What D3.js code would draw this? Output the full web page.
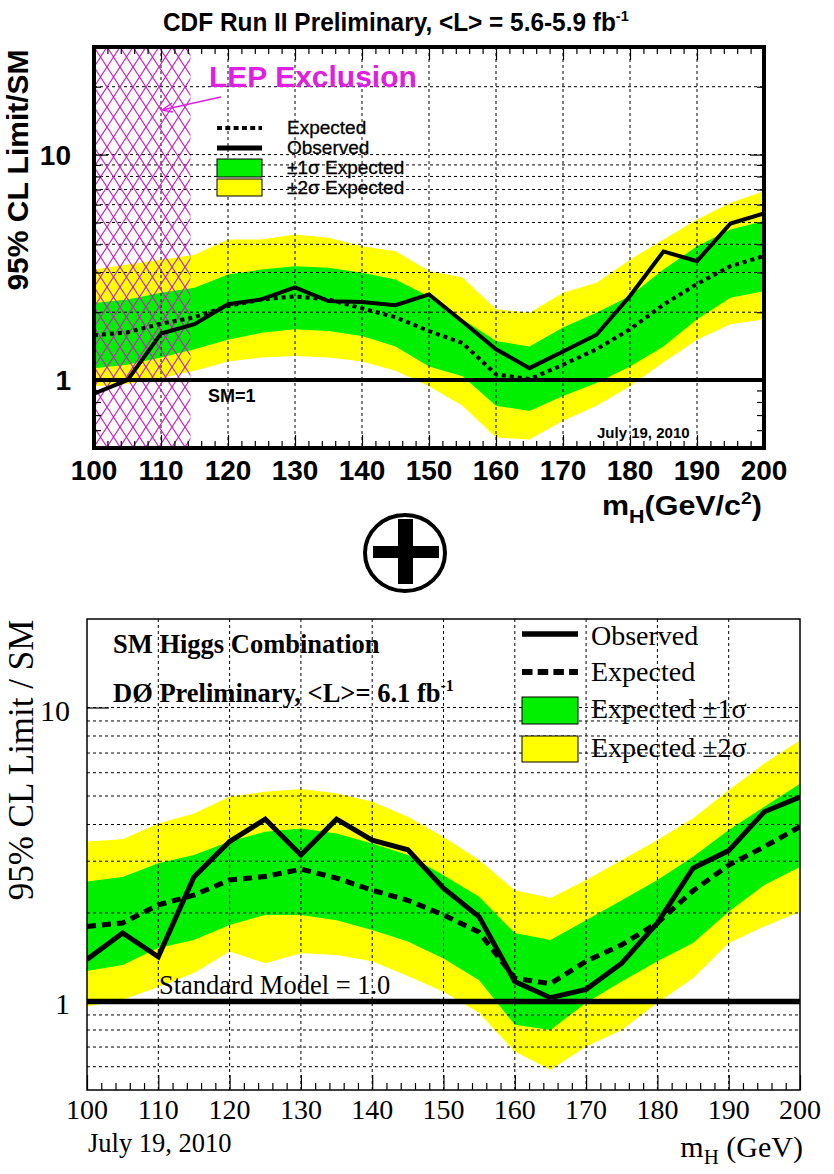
<!DOCTYPE html>
<html><head><meta charset="utf-8">
<script src="https://cdnjs.cloudflare.com/ajax/libs/d3/7.8.5/d3.min.js"></script>
<style>html,body{margin:0;padding:0;background:#fff;} svg{display:block;}</style>
</head><body>
<svg id="c" width="834" height="1174"></svg>
<script>
// ---------------- DATA ----------------
const masses = [100,105,110,115,120,125,130,135,140,145,150,155,160,165,170,175,180,185,190,195,200];

// CDF (top panel)
const cdfObs   = [0.87,1.00,1.61,1.77,2.17,2.28,2.58,2.24,2.22,2.15,2.40,1.82,1.37,1.13,1.34,1.59,2.36,3.72,3.37,4.95,5.48];
const cdfExp   = [1.58,1.63,1.78,1.90,2.13,2.28,2.35,2.28,2.08,1.90,1.65,1.46,1.06,1.01,1.17,1.37,1.68,2.16,2.67,3.20,3.55];
const cdfP1s   = [2.20,2.28,2.44,2.57,2.94,3.09,3.20,3.15,2.99,2.79,2.35,1.86,1.49,1.41,1.71,1.99,2.36,3.09,3.92,4.65,5.07];
const cdfM1s   = [1.13,1.17,1.26,1.37,1.51,1.62,1.68,1.65,1.57,1.41,1.15,1.04,0.77,0.73,0.85,0.97,1.15,1.41,1.86,2.32,2.48];
const cdfP2s   = [3.09,3.26,3.42,3.60,4.20,4.20,4.42,4.28,3.92,3.73,3.05,2.85,2.06,1.99,2.44,2.70,3.42,4.20,5.15,6.11,6.88];
const cdfM2s   = [0.94,0.96,1.02,1.10,1.21,1.26,1.28,1.26,1.21,1.10,0.94,0.77,0.556,0.546,0.66,0.77,0.94,1.20,1.51,1.77,1.86];

// D0 (bottom panel)
const d0Obs    = [1.39,1.71,1.42,2.65,3.50,4.17,3.15,4.17,3.54,3.28,2.43,1.94,1.17,1.03,1.10,1.35,1.85,2.84,3.26,4.42,4.96];
const d0Exp    = [1.80,1.85,2.13,2.30,2.59,2.66,2.82,2.63,2.39,2.21,1.97,1.72,1.20,1.15,1.37,1.56,1.85,2.38,2.91,3.36,3.93];
const d0P1s    = [2.56,2.65,2.95,3.15,3.50,3.78,3.88,3.73,3.45,3.15,2.69,2.27,1.71,1.62,1.89,2.21,2.59,3.11,3.83,4.60,5.50];
const d0M1s    = [1.27,1.33,1.52,1.62,1.82,1.97,1.97,1.89,1.75,1.60,1.40,1.18,0.833,0.80,0.99,1.17,1.37,1.58,2.02,2.49,2.87];
const d0P2s    = [3.50,3.56,4.03,4.36,4.97,5.17,5.28,5.11,4.78,4.25,3.63,3.03,2.39,2.25,2.59,3.03,3.54,4.20,5.23,6.45,7.74];
const d0M2s    = [0.962,1.013,1.12,1.25,1.48,1.35,1.46,1.44,1.37,1.22,1.08,0.913,0.676,0.586,0.703,0.80,0.99,1.20,1.58,1.80,2.02];

// ticks / labels
const xLabels      = [100,110,120,130,140,150,160,170,180,190,200];
const xGrid        = [110,120,130,140,150,160,170,180,190];
const topYGrid     = [2,3,4,5,6,7,8,9,10,20];
const topYMinor    = [0.6,0.7,0.8,0.9,2,3,4,5,6,7,8,9,20];
const topYMajor    = [1,10];
const botYGrid     = [0.6,0.7,0.8,0.9,2,3,4,5,6,7,8,9,10];
const yLabelVals   = [1,10];
const lepLimit     = 114.4;

// ---------------- SETUP ----------------
const svg = d3.select("#c");
const defs = svg.append("defs");
const GREEN = "#00f000", YELLOW = "#ffff00", MAG = "#e020e0";

function rows(o,e,p1,m1,p2,m2){ return masses.map((m,i)=>({m,obs:o[i],exp:e[i],p1:p1[i],m1:m1[i],p2:p2[i],m2:m2[i]})); }
const cdfRows = rows(cdfObs,cdfExp,cdfP1s,cdfM1s,cdfP2s,cdfM2s);
const d0Rows  = rows(d0Obs,d0Exp,d0P1s,d0M1s,d0P2s,d0M2s);

function fitGroup(g, x0, y, target){
  const bb = g.node().getBBox();
  const s = target / bb.width;
  g.attr("transform", `translate(${x0 - bb.x*s},${y}) scale(${s},1)`);
}

// =============== TOP PANEL (CDF) ===============
const T = {l:94, r:764, t:47, b:448};
const tx = d3.scaleLinear().domain([100,200]).range([T.l,T.r]);
const ty = d3.scaleLog().domain([0.5,30]).range([T.b,T.t]);

defs.append("clipPath").attr("id","clipT").append("rect")
  .attr("x",T.l).attr("y",T.t).attr("width",T.r-T.l).attr("height",T.b-T.t);
const hp = defs.append("pattern").attr("id","hatch").attr("patternUnits","userSpaceOnUse")
  .attr("x",T.l).attr("y",T.t).attr("width",13).attr("height",20);
hp.append("path").attr("d","M0,0L13,20M13,0L0,20").attr("stroke","#c81ec8").attr("stroke-width",1.2).attr("fill","none");

const topG = svg.append("g");
const topC = topG.append("g").attr("clip-path","url(#clipT)");
const areaT = (lo,hi)=>d3.area().x(d=>tx(d.m)).y0(d=>ty(d[lo])).y1(d=>ty(d[hi]));
topC.append("path").datum(cdfRows).attr("d",areaT("m2","p2")).attr("fill",YELLOW);
topC.append("path").datum(cdfRows).attr("d",areaT("m1","p1")).attr("fill",GREEN);

// grid
topC.selectAll(".vg").data(xGrid).join("line").attr("x1",d=>tx(d)).attr("x2",d=>tx(d))
  .attr("y1",T.t).attr("y2",T.b).attr("stroke","#000").attr("stroke-width",1).attr("stroke-dasharray","3,3");
topC.selectAll(".hg").data(topYGrid).join("line").attr("y1",d=>ty(d)).attr("y2",d=>ty(d))
  .attr("x1",T.l).attr("x2",T.r).attr("stroke","#000").attr("stroke-width",1).attr("stroke-dasharray","3,3");

// LEP hatch
topC.append("rect").attr("x",tx(100)).attr("y",T.t).attr("width",tx(lepLimit)-tx(100)).attr("height",T.b-T.t)
  .attr("fill","url(#hatch)");

// SM line
topC.append("line").attr("x1",T.l).attr("x2",T.r).attr("y1",ty(1)).attr("y2",ty(1)).attr("stroke","#000").attr("stroke-width",4);

const lineT = key=>d3.line().x(d=>tx(d.m)).y(d=>ty(d[key]));
topC.append("path").datum(cdfRows).attr("d",lineT("exp")).attr("fill","none").attr("stroke","#000")
  .attr("stroke-width",4).attr("stroke-dasharray","4,4");
topC.append("path").datum(cdfRows).attr("d",lineT("obs")).attr("fill","none").attr("stroke","#000")
  .attr("stroke-width",4).attr("stroke-linejoin","miter");

// ticks
function noDomain(g){ g.select(".domain").remove(); g.selectAll(".tick line").attr("stroke-width",1.2); }
const minorX = d3.range(100,201,2).filter(v=>v%10!==0);
topG.append("g").attr("transform",`translate(0,${T.b})`).call(d3.axisBottom(tx).tickValues(xLabels).tickSize(-13).tickFormat("")).call(noDomain);
topG.append("g").attr("transform",`translate(0,${T.b})`).call(d3.axisBottom(tx).tickValues(minorX).tickSize(-7).tickFormat("")).call(noDomain);
topG.append("g").attr("transform",`translate(0,${T.t})`).call(d3.axisTop(tx).tickValues(xLabels).tickSize(-13).tickFormat("")).call(noDomain);
topG.append("g").attr("transform",`translate(0,${T.t})`).call(d3.axisTop(tx).tickValues(minorX).tickSize(-7).tickFormat("")).call(noDomain);
topG.append("g").attr("transform",`translate(${T.l},0)`).call(d3.axisLeft(ty).tickValues(topYMajor).tickSize(-14).tickFormat("")).call(noDomain);
topG.append("g").attr("transform",`translate(${T.l},0)`).call(d3.axisLeft(ty).tickValues(topYMinor).tickSize(-7).tickFormat("")).call(noDomain);
topG.append("g").attr("transform",`translate(${T.r},0)`).call(d3.axisRight(ty).tickValues(topYMajor).tickSize(-14).tickFormat("")).call(noDomain);
topG.append("g").attr("transform",`translate(${T.r},0)`).call(d3.axisRight(ty).tickValues(topYMinor).tickSize(-7).tickFormat("")).call(noDomain);

// frame
topG.append("rect").attr("x",T.l).attr("y",T.t).attr("width",T.r-T.l).attr("height",T.b-T.t)
  .attr("fill","none").attr("stroke","#000").attr("stroke-width",4);

const SANS = "'Liberation Sans', Arial, Helvetica, sans-serif";
// tick labels
topG.selectAll(".xl").data(xLabels).join("text").attr("x",d=>tx(d)).attr("y",480)
  .attr("text-anchor","middle").attr("font-family",SANS).attr("font-weight","bold").attr("font-size",28).text(d=>d);
topG.selectAll(".yl").data(yLabelVals).join("text").attr("x",71).attr("y",d=>ty(d)+10)
  .attr("text-anchor","end").attr("font-family",SANS).attr("font-weight","bold").attr("font-size",28).text(d=>d);

// axis titles
topG.append("text").attr("transform","translate(28,170) rotate(-90)").attr("text-anchor","middle")
  .attr("font-family",SANS).attr("font-weight","bold").attr("font-size",30).text("95% CL Limit/SM");
{
  const g = topG.append("g");
  const t = g.append("text").attr("font-family",SANS).attr("font-weight","bold").attr("font-size",27);
  t.append("tspan").text("m");
  t.append("tspan").attr("dy",8).attr("font-size",19).text("H");
  t.append("tspan").attr("dy",-8).text("(GeV/c");
  t.append("tspan").attr("dy",-11).attr("font-size",17).text("2");
  t.append("tspan").attr("dy",11).text(")");
  fitGroup(g, 602, 515, 160);
}
// title
{
  const g = svg.append("g");
  const t = g.append("text").attr("font-family",SANS).attr("font-weight","bold").attr("font-size",25);
  t.append("tspan").text("CDF Run II Preliminary, <L> = 5.6-5.9 fb");
  t.append("tspan").attr("dy",-10).attr("font-size",15).text("-1");
  fitGroup(g, 163, 31, 466);
}

// LEP
topG.append("text").attr("x",209).attr("y",87).attr("font-family",SANS).attr("font-weight","bold")
  .attr("font-size",30).attr("fill",MAG).text("LEP Exclusion");
topG.append("path").attr("d","M221,97L162,110M162,110L172,103M162,110L173,112")
  .attr("stroke",MAG).attr("stroke-width",1.5).attr("fill","none");

// top legend
topG.append("line").attr("x1",217).attr("x2",262).attr("y1",128).attr("y2",128).attr("stroke","#000").attr("stroke-width",4).attr("stroke-dasharray","5,3.3");
topG.append("line").attr("x1",217).attr("x2",262).attr("y1",148).attr("y2",148).attr("stroke","#000").attr("stroke-width",5);
topG.append("rect").attr("x",217).attr("y",159).attr("width",45).attr("height",18).attr("fill",GREEN).attr("stroke","#000").attr("stroke-width",1);
topG.append("rect").attr("x",217).attr("y",179).attr("width",45).attr("height",17).attr("fill",YELLOW).attr("stroke","#000").attr("stroke-width",1);
const topLeg = ["Expected","Observed","\u00b11\u03c3 Expected","\u00b12\u03c3 Expected"];
topG.selectAll(".lg").data(topLeg).join("text").attr("x",287).attr("y",(d,i)=>134+i*20)
  .attr("font-family",SANS).attr("font-size",19).attr("fill","#000").attr("stroke","#000").attr("stroke-width",0.3).text(d=>d);

topG.append("text").attr("x",208).attr("y",402).attr("font-family",SANS).attr("font-weight","bold").attr("font-size",18).text("SM=1");
topG.append("text").attr("x",597).attr("y",438).attr("font-family",SANS).attr("font-weight","bold").attr("font-size",15).text("July 19, 2010");

// ---------------- PLUS SYMBOL ----------------
svg.append("ellipse").attr("cx",405).attr("cy",553).attr("rx",40).attr("ry",38).attr("fill","none").attr("stroke","#000").attr("stroke-width",4);
svg.append("rect").attr("x",398).attr("y",519).attr("width",15).attr("height",65).attr("fill","#000");
svg.append("rect").attr("x",373).attr("y",546).attr("width",66).attr("height",12).attr("fill","#000");

// =============== BOTTOM PANEL (D0) ===============
const B = {l:87, r:800, t:619, b:1090};
const bx = d3.scaleLinear().domain([100,200]).range([B.l,B.r]);
const by = d3.scaleLog().domain([0.5,20]).range([B.b,B.t]);
defs.append("clipPath").attr("id","clipB").append("rect")
  .attr("x",B.l).attr("y",B.t).attr("width",B.r-B.l).attr("height",B.b-B.t);
const botG = svg.append("g");
const botC = botG.append("g").attr("clip-path","url(#clipB)");
const areaB = (lo,hi)=>d3.area().x(d=>bx(d.m)).y0(d=>by(d[lo])).y1(d=>by(d[hi]));
botC.append("path").datum(d0Rows).attr("d",areaB("m2","p2")).attr("fill",YELLOW);
botC.append("path").datum(d0Rows).attr("d",areaB("m1","p1")).attr("fill",GREEN);
botC.selectAll(".vg").data(xGrid).join("line").attr("x1",d=>bx(d)).attr("x2",d=>bx(d))
  .attr("y1",B.t).attr("y2",B.b).attr("stroke","#000").attr("stroke-width",1).attr("stroke-dasharray","3,3");
botC.selectAll(".hg").data(botYGrid).join("line").attr("y1",d=>by(d)).attr("y2",d=>by(d))
  .attr("x1",B.l).attr("x2",B.r).attr("stroke","#000").attr("stroke-width",1).attr("stroke-dasharray","3,3");
botC.append("line").attr("x1",B.l).attr("x2",B.r).attr("y1",by(1)).attr("y2",by(1)).attr("stroke","#000").attr("stroke-width",5.5);
const lineB = key=>d3.line().x(d=>bx(d.m)).y(d=>by(d[key]));
botC.append("path").datum(d0Rows).attr("d",lineB("exp")).attr("fill","none").attr("stroke","#000")
  .attr("stroke-width",5).attr("stroke-dasharray","9,6");
botC.append("path").datum(d0Rows).attr("d",lineB("obs")).attr("fill","none").attr("stroke","#000")
  .attr("stroke-width",5);

botG.append("g").attr("transform",`translate(0,${B.b})`).call(d3.axisBottom(bx).tickValues(xLabels).tickSize(-15).tickFormat("")).call(noDomain);
botG.append("g").attr("transform",`translate(0,${B.b})`).call(d3.axisBottom(bx).tickValues(minorX).tickSize(-7).tickFormat("")).call(noDomain);
botG.append("g").attr("transform",`translate(${B.l},0)`).call(d3.axisLeft(by).tickValues(yLabelVals).tickSize(-22).tickFormat("")).call(noDomain);
botG.append("rect").attr("x",B.l).attr("y",B.t).attr("width",B.r-B.l).attr("height",B.b-B.t)
  .attr("fill","none").attr("stroke","#000").attr("stroke-width",1.5);

const SERIF = "'Liberation Serif', 'Times New Roman', serif";
botG.selectAll(".xl").data(xLabels).join("text").attr("x",d=>bx(d)).attr("y",1119)
  .attr("text-anchor","middle").attr("font-family",SERIF).attr("font-size",28).text(d=>d);
botG.selectAll(".yl").data(yLabelVals).join("text").attr("x",70).attr("y",d=>by(d)+13)
  .attr("text-anchor","end").attr("font-family",SERIF).attr("font-size",30).text(d=>d);
botG.append("text").attr("transform","translate(33,760) rotate(-90)").attr("text-anchor","middle")
  .attr("font-family",SERIF).attr("font-size",35).text("95% CL Limit / SM");
{
  const t = botG.append("text").attr("x",803).attr("y",1157).attr("text-anchor","end").attr("font-family",SERIF).attr("font-size",30);
  t.append("tspan").text("m");
  t.append("tspan").attr("dy",7).attr("font-size",21).text("H");
  t.append("tspan").attr("dy",-7).text(" (GeV)");
}
botG.append("text").attr("x",88).attr("y",1152).attr("font-family",SERIF).attr("font-size",26.5).text("July 19, 2010");

botG.append("text").attr("x",113).attr("y",653).attr("font-family",SERIF).attr("font-weight","bold").attr("font-size",26.5).text("SM Higgs Combination");
{
  const t = botG.append("text").attr("x",113).attr("y",702).attr("font-family",SERIF).attr("font-weight","bold").attr("font-size",26.5);
  t.append("tspan").text("D\u00d8 Preliminary, <L>= 6.1 fb");
  t.append("tspan").attr("dy",-11).attr("font-size",16).text("-1");
}
botG.append("text").attr("x",159).attr("y",994).attr("font-family",SERIF).attr("font-size",26.5).text("Standard Model = 1.0");

// bottom legend
botG.append("line").attr("x1",522).attr("x2",578).attr("y1",634).attr("y2",634).attr("stroke","#000").attr("stroke-width",5.5);
botG.append("line").attr("x1",522).attr("x2",578).attr("y1",672).attr("y2",672).attr("stroke","#000").attr("stroke-width",6).attr("stroke-dasharray","10.5,5.2");
botG.append("rect").attr("x",522).attr("y",697).attr("width",56).attr("height",27).attr("fill",GREEN).attr("stroke","#000").attr("stroke-width",1);
botG.append("rect").attr("x",522).attr("y",736).attr("width",56).attr("height",26).attr("fill",YELLOW).attr("stroke","#000").attr("stroke-width",1);
const botLeg = [["Observed",645],["Expected",681],["Expected \u00b11\u03c3",718],["Expected \u00b12\u03c3",757]];
botG.selectAll(".lg").data(botLeg).join("text").attr("x",591).attr("y",d=>d[1])
  .attr("font-family",SERIF).attr("font-size",28).text(d=>d[0]);
</script>
</body></html>
